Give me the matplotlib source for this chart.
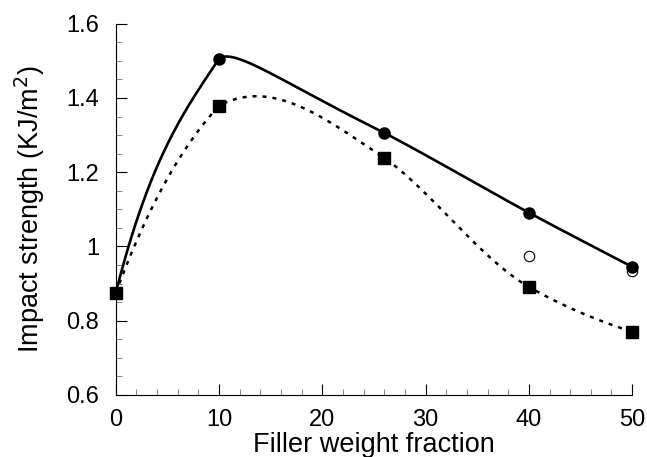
import numpy as np
import matplotlib.pyplot as plt

# filler content (wt %) and measured impact strength (KJ/m^2)
filler = [0, 10, 26, 40, 50]
strength_a = [0.875, 1.506, 1.306, 1.091, 0.945]   # filled circles
strength_b = [0.875, 1.379, 1.239, 0.891, 0.770]   # filled squares
filler_open = [40, 50]
strength_open = [0.975, 0.934]                     # open circles

# smoothing of each segment: end slopes (start, end) and handle lengths
# as a fraction of the segment width (1/3 = plain cubic)
slopes_a = [(0.11, 0.042), (0.02, -0.0138), (-0.0145, -0.015), (-0.015, -0.0145)]
handles_a = [(1 / 3, 1 / 3), (0.094, 0.625), (1 / 3, 1 / 3), (1 / 3, 1 / 3)]
slopes_b = [(0.075, 0.030), (0.015, -0.018), (-0.020, -0.016), (-0.016, -0.009)]
handles_b = [(1 / 3, 1 / 3)] * 4


def bezier_curve(x, y, slopes, handles, n=80):
    # piecewise cubic Bezier through the points, handles set by slope and length
    xs_all, ys_all = [], []
    t = np.linspace(0, 1, n)[:, None]
    for i in range(len(x) - 1):
        h = x[i + 1] - x[i]
        m0, m1 = slopes[i]
        a, b = handles[i]
        p0 = np.array([x[i], y[i]])
        p3 = np.array([x[i + 1], y[i + 1]])
        p1 = p0 + a * h * np.array([1, m0])
        p2 = p3 - b * h * np.array([1, m1])
        pts = (1 - t)**3 * p0 + 3 * (1 - t)**2 * t * p1 + 3 * (1 - t) * t**2 * p2 + t**3 * p3
        xs_all.append(pts[:, 0])
        ys_all.append(pts[:, 1])
    return np.concatenate(xs_all), np.concatenate(ys_all)


plt.rcParams['font.family'] = ['Liberation Sans', 'DejaVu Sans']

fig = plt.figure(figsize=(6.47, 4.57), dpi=100)
ax = fig.add_axes([0.179, 0.136, 0.798, 0.812])

xs, ys = bezier_curve(filler, strength_a, slopes_a, handles_a)
ax.plot(xs, ys, color='black', lw=1.9, clip_on=False)
xs, ys = bezier_curve(filler, strength_b, slopes_b, handles_b)
ax.plot(xs, ys, color='black', lw=1.8, linestyle=(0, (1.6, 2.4)), clip_on=False)

ax.plot(filler, strength_a, 'o', color='black', ms=8, clip_on=False, zorder=3)
ax.plot(filler, strength_b, 's', color='black', ms=8.8, clip_on=False, zorder=3)
ax.plot(filler_open, strength_open, 'o', mfc='white', mec='black', mew=0.8,
        ms=7.5, clip_on=False, zorder=2)

ax.set_xlim(0, 50)
ax.set_ylim(0.6, 1.6)
ax.set_xticks([0, 10, 20, 30, 40, 50])
ax.set_xticks(np.arange(0, 51, 2), minor=True)
ax.set_yticks([0.6, 0.8, 1.0, 1.2, 1.4, 1.6])
ax.set_yticklabels(['0.6', '0.8', '1', '1.2', '1.4', '1.6'])
ax.set_yticks(np.arange(0.6, 1.601, 0.05), minor=True)

ax.spines['top'].set_visible(False)
ax.spines['right'].set_visible(False)
for s in ['left', 'bottom']:
    ax.spines[s].set_linewidth(0.8)
ax.tick_params(which='major', direction='in', length=8, width=0.8, labelsize=17)
ax.tick_params(axis='y', which='major', pad=12)
ax.tick_params(axis='x', which='major', pad=10)
ax.tick_params(which='minor', direction='in', length=4, width=0.5, color='#555555')

ax.set_xlabel('Filler weight fraction', fontsize=19.5, labelpad=1)
ax.set_ylabel('Impact strength (KJ/m$^2$)', fontsize=19.5, labelpad=14)

fig.savefig('out.png', dpi=100)
